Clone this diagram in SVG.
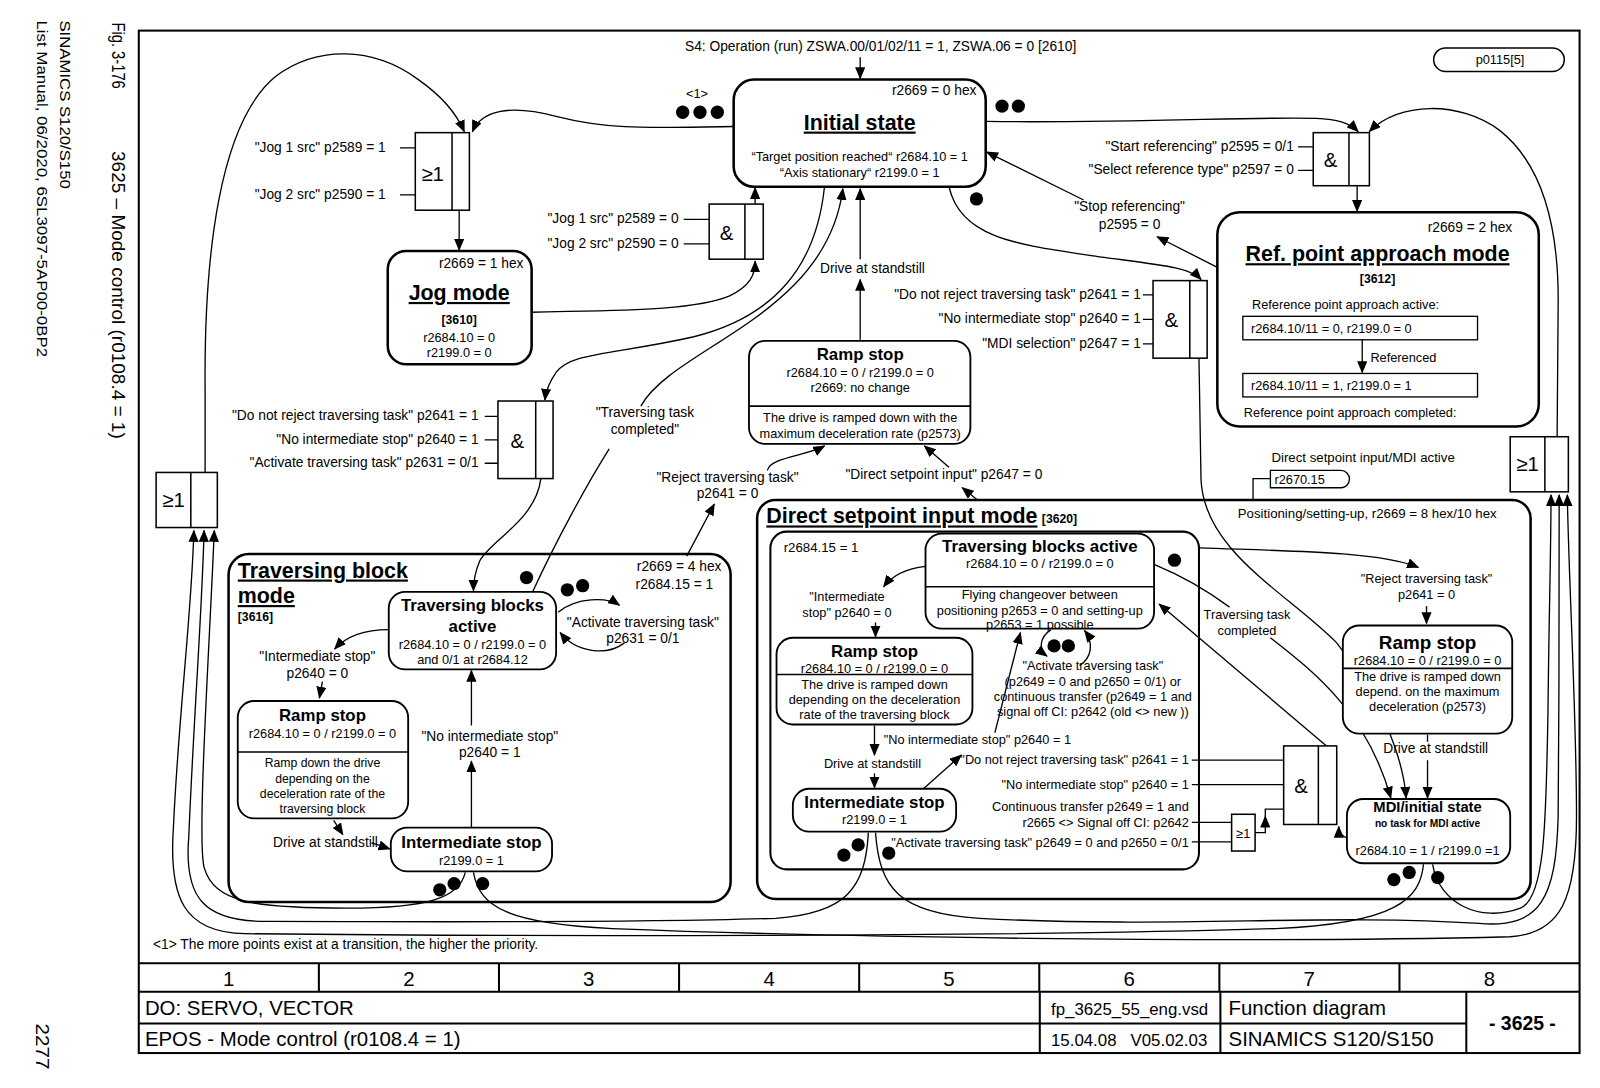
<svg xmlns="http://www.w3.org/2000/svg" width="1600" height="1088" viewBox="0 0 1600 1088">
<defs>
<style>
text{font-family:"Liberation Sans",Arial,Helvetica,sans-serif;fill:#000;font-size:13.5px}
.n{font-size:12.5px}
.s13{font-size:13px}
.s12{font-size:12px}
.m{text-anchor:middle}
.e{text-anchor:end}
.ti{font-size:21px;font-weight:bold;text-decoration:underline}
.h{font-size:16.5px;font-weight:bold}
.bx{font-size:12px;font-weight:bold}
.gs{font-size:20px}
.big{fill:#fff;stroke:#000;stroke-width:2.5}
.nd{fill:#fff;stroke:#000;stroke-width:1.8}
.gt{fill:#fff;stroke:#000;stroke-width:1.5}
.w{fill:none;stroke:#000;stroke-width:1.3}
.a{marker-end:url(#ah)}
.tb{fill:none;stroke:#000;stroke-width:2}
.tt{font-size:20px}
.fn{font-size:16.5px}
.mg{font-size:15px}
.mg2{font-size:18px}
</style>
<marker id="ah" viewBox="0 0 12 10" refX="11" refY="5" markerWidth="12" markerHeight="10" markerUnits="userSpaceOnUse" orient="auto"><path d="M0,0 L12,5 L0,10 z"/></marker>
</defs>
<rect x="0" y="0" width="1600" height="1088" fill="#fff"/>
<g transform="scale(1.0204)">

<g id="margin-text">
<text transform="translate(110,22) rotate(90)" class="mg2" textLength="65" lengthAdjust="spacingAndGlyphs">Fig. 3-176</text>
<text transform="translate(110,148) rotate(90)" class="mg2" textLength="282" lengthAdjust="spacingAndGlyphs">3625 – Mode control (r0108.4 = 1)</text>
<text transform="translate(59,20) rotate(90)" class="mg" textLength="165" lengthAdjust="spacingAndGlyphs">SINAMICS S120/S150</text>
<text transform="translate(36,20) rotate(90)" class="mg" textLength="330" lengthAdjust="spacingAndGlyphs">List Manual, 06/2020, 6SL3097-5AP00-0BP2</text>
<text transform="translate(35,1003) rotate(90)" style="font-size:18px" textLength="45" lengthAdjust="spacingAndGlyphs">2277</text>
</g>

<g id="frame">
<rect x="136" y="30" width="1412" height="1002" class="tb"/>
<path class="tb" d="M136,944 H1548 M136,972 H1548 M136,1003 H1437 M312.5,944 V972 M489,944 V972 M665.5,944 V972 M842,944 V972 M1018.5,944 V972 M1195,944 V972 M1371.5,944 V972 M1019,972 V1032 M1196,972 V1032 M1437,972 V1032"/>
<text x="224" y="966" class="tt m">1</text>
<text x="400.7" y="966" class="tt m">2</text>
<text x="577" y="966" class="tt m">3</text>
<text x="753.7" y="966" class="tt m">4</text>
<text x="930" y="966" class="tt m">5</text>
<text x="1106.7" y="966" class="tt m">6</text>
<text x="1283" y="966" class="tt m">7</text>
<text x="1459.7" y="966" class="tt m">8</text>
<text x="142" y="995" class="tt">DO: SERVO, VECTOR</text>
<text x="142" y="1025" class="tt">EPOS - Mode control (r0108.4 = 1)</text>
<text x="1030" y="995" class="fn">fp_3625_55_eng.vsd</text>
<text x="1030" y="1025" class="fn" xml:space="preserve">15.04.08   V05.02.03</text>
<text x="1204" y="995" class="tt">Function diagram</text>
<text x="1204" y="1025" class="tt">SINAMICS S120/S150</text>
<text x="1492" y="1009" class="m" style="font-size:19px;font-weight:bold">- 3625 -</text>
<text x="150" y="930">&lt;1&gt; The more points exist at a transition, the higher the priority.</text>
</g>

<g id="ref-mode">
<rect x="1193" y="208" width="315" height="210" rx="22" class="big"/>
<text x="1482" y="227" class="e">r2669 = 2 hex</text>
<text x="1350" y="256" class="ti m">Ref. point approach mode</text>
<text x="1350" y="277" class="bx m">[3612]</text>
<text x="1227" y="303" class="n">Reference point approach active:</text>
<rect x="1218" y="310" width="230" height="23" fill="#fff" stroke="#000" stroke-width="1.3"/>
<text x="1226" y="326" class="n">r2684.10/11 = 0, r2199.0 = 0</text>
<text x="1343" y="355" class="n">Referenced</text>
<rect x="1218" y="366" width="230" height="23" fill="#fff" stroke="#000" stroke-width="1.3"/>
<text x="1226" y="382" class="n">r2684.10/11 = 1, r2199.0 = 1</text>
<text x="1219" y="409" class="n">Reference point approach completed:</text>
</g>

<g id="traversing-block-mode">
<rect x="224" y="543" width="492" height="341" rx="20" class="big"/>
<text x="233" y="566" class="ti">Traversing block</text>
<text x="233" y="591" class="ti">mode</text>
<text x="233" y="609" class="bx">[3616]</text>
<text x="707" y="560" class="e">r2669 = 4 hex</text>
<text x="699" y="577" class="e">r2684.15 = 1</text>
</g>

<g id="direct-setpoint-mode">
<rect x="742" y="490" width="758" height="391" rx="18" class="big"/>
<text x="751" y="513" class="ti">Direct setpoint input mode</text>
<text x="1021" y="513" class="bx">[3620]</text>
<text x="1213" y="508" class="s13">Positioning/setting-up, r2669 = 8 hex/10 hex</text>
</g>

<g id="dsi-inner">
<rect x="755" y="521" width="420" height="331" rx="16" fill="#fff" stroke="#000" stroke-width="2"/>
<text x="768" y="541" class="s13">r2684.15 = 1</text>
</g>

<g id="connectors">
<path class="w a" d="M843,56 L843,77"/>
<path class="w a" d="M719,124 C640,125 600,128 545,114 C500,102 472,108 463,129"/>
<path class="w a" d="M201,463 L201,380 C200,250 215,120 270,75 C310,45 365,45 410,78 C430,92 446,108 455,129"/>
<path class="w a" d="M450,206 L450,245"/>
<path class="w a" d="M521,306 C600,304 680,305 715,290 C735,280 740,270 740,256"/>
<path class="w a" d="M740,200 L740,184"/>
<path class="w a" d="M966,119 C1100,121 1240,114 1290,116 C1310,117 1322,120 1331,129"/>
<path class="w a" d="M1526,428 L1527,300 C1528,220 1510,160 1470,128 C1430,98 1370,100 1342,129"/>
<path class="w a" d="M1330,182 L1330,207"/>
<path class="w a" d="M1335,333 L1335,365"/>
<path class="w a" d="M1193,262 L1134,232"/>
<path class="w a" d="M1062,196 L967,149"/>
<path class="w a" d="M930,183 C942,235 1000,240 1080,252 C1140,260 1166,262 1177,274"/>
<path class="w a" d="M1175,351 L1177,470 C1180,540 1260,580 1310,630 C1350,680 1375,740 1378,782"/>
<path class="w a" d="M843,333 L843,274"/>
<path class="w a" d="M843,254 L843,185"/>
<path class="w a" d="M808,183 C800,260 760,310 680,330 C600,348 560,345 545,365 C538,375 535,383 534,392"/>
<path class="w a" d="M530,469 C525,510 480,530 470,550 C465,562 464,570 464,579"/>
<path class="w" d="M522,580 C545,530 575,475 597,440"/>
<path class="w a" d="M628,398 C660,340 810,310 826,185"/>
<path class="w a" d="M673,545 L700,494"/>
<path class="w a" d="M752,461 C755,448 790,447 808,437"/>
<path class="w a" d="M958,490 L943,478"/>
<path class="w a" d="M930,458 L906,437"/>
<path class="w a" d="M547,600 C565,585 595,585 607,593"/>
<path class="w a" d="M612,630 C595,643 565,640 549,620"/>
<path class="w a" d="M381,617 C355,617 338,625 328,636"/>
<path class="w a" d="M316,668 L313,684"/>
<path class="w a" d="M327,804 L336,818"/>
<path class="w a" d="M364,826 C372,828 376,830 382,832"/>
<path class="w a" d="M462,811 L462,746"/>
<path class="w a" d="M462,711 L462,657"/>
<path class="w a" d="M907,555 C890,557 875,563 866,575"/>
<path class="w a" d="M858,610 L858,624"/>
<path class="w a" d="M857,711 L857,740"/>
<path class="w a" d="M857,758 L857,772"/>
<path class="w a" d="M905,773 L942,740"/>
<path class="w a" d="M975,718 L1000,620"/>
<path class="w a" d="M1030,617 C1018,625 1018,637 1026,643"/>
<path class="w a" d="M1058,652 C1070,645 1072,630 1063,618"/>
<path class="w a" d="M1175,537 C1260,540 1350,540 1390,556"/>
<path class="w a" d="M1398,594 L1398,611"/>
<path class="w" d="M1399,720 L1399,727"/>
<path class="w a" d="M1399,745 L1399,782"/>
<path class="w" d="M1131,553 C1160,565 1185,580 1205,595"/>
<path class="w a" d="M1245,625 C1290,660 1340,700 1363,782"/>
<path class="w a" d="M1300,731 L1136,592"/>
<path class="w a" d="M1322,822 C1315,820 1312,816 1312,810"/>
<path class="w" d="M1168,745 L1258,745 M1168,769 L1258,769 M1168,806 L1207,806 M1168,825 L1207,825"/>
<path class="w a" d="M1230,816 L1240,816 L1240,800"/>
<path class="w" d="M1240,800 L1240,793 L1258,793"/>
<path class="w" d="M1245,469 L1228,469 L1228,490"/>
<path class="w" d="M392,145 L407,145 M392,191 L407,191"/>
<path class="w" d="M670,215 L695,215 M670,239 L695,239"/>
<path class="w" d="M1272,144 L1287,144 M1272,167 L1287,167"/>
<path class="w" d="M1120,289 L1130,289 M1120,313 L1130,313 M1120,337 L1130,337"/>
<path class="w" d="M475,408 L488,408 M475,431 L488,431 M475,454 L488,454"/>
<path class="w a" d="M456,855 C450,880 420,890 340,890 C250,890 210,885 200,850 C193,820 205,640 210,520"/>
<path class="w a" d="M851,816 C848,870 830,895 760,900 C600,905 400,903 260,903 C200,903 180,880 185,820 C190,700 198,600 200,520"/>
<path class="w a" d="M1395,847 C1392,880 1370,905 1250,910 C1000,918 500,918 240,915 C180,914 165,880 170,810 C175,700 188,600 190,520"/>
<path class="w a" d="M1404,847 C1410,885 1450,905 1490,890 C1515,880 1515,800 1517,700 C1518,600 1520,540 1520,485"/>
<path class="w a" d="M858,816 C862,870 880,895 960,900 C1150,910 1300,895 1450,905 C1510,910 1525,880 1527,800 C1528,700 1528,560 1528,485"/>
<path class="w a" d="M464,855 C470,890 500,905 600,910 C800,918 1200,925 1480,918 C1530,915 1545,880 1545,800 C1545,700 1537,560 1536,485"/>
</g>

<g id="transition-labels">
<text x="863" y="50" class="m">S4: Operation (run) ZSWA.00/01/02/11 = 1, ZSWA.06 = 0 [2610]</text>
<text x="683" y="96" class="n m">&lt;1&gt;</text>
<text x="378" y="149" class="e">"Jog 1 src" p2589 = 1</text>
<text x="378" y="195" class="e">"Jog 2 src" p2590 = 1</text>
<text x="665" y="219" class="e">"Jog 1 src" p2589 = 0</text>
<text x="665" y="243" class="e">"Jog 2 src" p2590 = 0</text>
<text x="1268" y="148" class="e">"Start referencing" p2595 = 0/1</text>
<text x="1268" y="171" class="e">"Select reference type" p2597 = 0</text>
<text x="1107" y="207" class="m">"Stop referencing"</text>
<text x="1107" y="224" class="m">p2595 = 0</text>
<text x="1118" y="293" class="e">"Do not reject traversing task" p2641 = 1</text>
<text x="1118" y="317" class="e">"No intermediate stop" p2640 = 1</text>
<text x="1118" y="341" class="e">"MDI selection" p2647 = 1</text>
<text x="855" y="268" class="m">Drive at standstill</text>
<text x="469" y="412" class="e">"Do not reject traversing task" p2641 = 1</text>
<text x="469" y="435" class="e">"No intermediate stop" p2640 = 1</text>
<text x="469" y="458" class="e">"Activate traversing task" p2631 = 0/1</text>
<text x="632" y="409" class="m">"Traversing task</text>
<text x="632" y="425" class="m">completed"</text>
<text x="713" y="472" class="m">"Reject traversing task"</text>
<text x="713" y="488" class="m">p2641 = 0</text>
<text x="925" y="469" class="m">"Direct setpoint input" p2647 = 0</text>
<text x="1246" y="453" class="s13">Direct setpoint input/MDI active</text>
<text x="630" y="614" class="m">"Activate traversing task"</text>
<text x="630" y="630" class="m">p2631 = 0/1</text>
<text x="311" y="648" class="m">"Intermediate stop"</text>
<text x="311" y="664" class="m">p2640 = 0</text>
<text x="319" y="830" class="m">Drive at standstill</text>
<text x="480" y="726" class="m">"No intermediate stop"</text>
<text x="480" y="742" class="m">p2640 = 1</text>
<text x="830" y="589" class="n m">"Intermediate</text>
<text x="830" y="605" class="n m">stop" p2640 = 0</text>
<text x="855" y="753" class="n m">Drive at standstill</text>
<text x="866" y="729" class="n">"No intermediate stop" p2640 = 1</text>
<text x="1071" y="657" class="n m">"Activate traversing task"</text>
<text x="1071" y="672" class="n m">(p2649 = 0 and p2650 = 0/1) or</text>
<text x="1071" y="687" class="n m">continuous transfer (p2649 = 1 and</text>
<text x="1071" y="702" class="n m">signal off CI: p2642 (old &lt;&gt; new ))</text>
<text x="1165" y="749" class="n e">"Do not reject traversing task" p2641 = 1</text>
<text x="1165" y="773" class="n e">"No intermediate stop" p2640 = 1</text>
<text x="1165" y="795" class="n e">Continuous transfer p2649 = 1 and</text>
<text x="1165" y="810" class="n e">r2665 &lt;&gt; Signal off CI: p2642</text>
<text x="1165" y="830" class="n e">"Activate traversing task" p2649 = 0 and p2650 = 0/1</text>
<text x="1222" y="607" class="n m">Traversing task</text>
<text x="1222" y="622" class="n m">completed</text>
<text x="1398" y="571" class="n m">"Reject traversing task"</text>
<text x="1398" y="587" class="n m">p2641 = 0</text>
<text x="1407" y="738" class="m">Drive at standstill</text>
</g>

<g id="priority-dots">
<circle cx="669" cy="110" r="6.5"/><circle cx="686" cy="110" r="6.5"/><circle cx="703" cy="110" r="6.5"/>
<circle cx="982" cy="104" r="6.5"/><circle cx="998" cy="104" r="6.5"/>
<circle cx="957" cy="195" r="6.5"/>
<circle cx="516" cy="566" r="6.5"/>
<circle cx="556" cy="578" r="6.5"/><circle cx="571" cy="574" r="6.5"/>
<circle cx="431" cy="872" r="6.5"/><circle cx="445" cy="866" r="6.5"/><circle cx="473" cy="866" r="6.5"/>
<circle cx="1151" cy="549" r="6.5"/>
<circle cx="1033" cy="633" r="6.5"/><circle cx="1047" cy="633" r="6.5"/>
<circle cx="827" cy="838" r="6.5"/><circle cx="841" cy="828" r="6.5"/><circle cx="871" cy="836" r="6.5"/>
<circle cx="1366" cy="862" r="6.5"/><circle cx="1381" cy="855" r="6.5"/><circle cx="1409" cy="860" r="6.5"/>
</g>

<g id="p0115">
<rect x="1405" y="47" width="128" height="23" rx="11.5" fill="#fff" stroke="#000" stroke-width="1.5"/>
<text x="1470" y="63" class="n m">p0115[5]</text>
</g>

<g id="r2670-15">
<path d="M1245,461 H1314 A8.5,8.5 0 0 1 1314,478 H1245 Z" fill="#fff" stroke="#000" stroke-width="1.3"/>
<text x="1249" y="474" class="n">r2670.15</text>
</g>

<g id="initial-state">
<rect x="719" y="78" width="247" height="105" rx="20" class="big"/>
<text x="957" y="93" class="e">r2669 = 0 hex</text>
<text x="842.5" y="127" class="ti m">Initial state</text>
<text x="842.5" y="158" class="n m">“Target position reached“ r2684.10 = 1</text>
<text x="842.5" y="173" class="n m">“Axis stationary“ r2199.0 = 1</text>
</g>

<g id="jog-mode">
<rect x="380" y="246" width="141" height="111" rx="18" class="big"/>
<text x="513" y="263" class="e">r2669 = 1 hex</text>
<text x="450" y="294" class="ti m">Jog mode</text>
<text x="450" y="318" class="bx m">[3610]</text>
<text x="450" y="335" class="n m">r2684.10 = 0</text>
<text x="450" y="350" class="n m">r2199.0 = 0</text>
</g>

<g id="ramp-stop-main">
<rect x="734" y="334" width="217" height="101" rx="16" class="nd"/>
<line x1="734" y1="398" x2="951" y2="398" stroke="#000" stroke-width="1.5"/>
<text x="843" y="353" class="h m">Ramp stop</text>
<text x="843" y="369" class="n m">r2684.10 = 0 / r2199.0 = 0</text>
<text x="843" y="384" class="n m">r2669: no change</text>
<text x="843" y="414" class="n m">The drive is ramped down with the</text>
<text x="843" y="429" class="n m">maximum deceleration rate (p2573)</text>
</g>

<g id="gate-jog-or">
<rect x="407" y="130" width="53" height="76" class="gt"/><line x1="443" y1="130" x2="443" y2="206" stroke="#000" stroke-width="1.5"/>
<text x="424" y="177" class="gs m">≥1</text>
</g>
<g id="gate-jog-and">
<rect x="695" y="200" width="53" height="54" class="gt"/><line x1="730" y1="200" x2="730" y2="254" stroke="#000" stroke-width="1.5"/>
<text x="712" y="235" class="gs m">&amp;</text>
</g>
<g id="gate-ref-and">
<rect x="1287" y="130" width="55" height="52" class="gt"/><line x1="1322" y1="130" x2="1322" y2="182" stroke="#000" stroke-width="1.5"/>
<text x="1304" y="164" class="gs m">&amp;</text>
</g>
<g id="gate-mdi-and">
<rect x="1130" y="275" width="53" height="76" class="gt"/><line x1="1166" y1="275" x2="1166" y2="351" stroke="#000" stroke-width="1.5"/>
<text x="1148" y="320" class="gs m">&amp;</text>
</g>
<g id="gate-tb-and">
<rect x="488" y="393" width="54" height="76" class="gt"/><line x1="525" y1="393" x2="525" y2="469" stroke="#000" stroke-width="1.5"/>
<text x="507" y="439" class="gs m">&amp;</text>
</g>
<g id="gate-left-or">
<rect x="153" y="463" width="60" height="54" class="gt"/><line x1="187" y1="463" x2="187" y2="517" stroke="#000" stroke-width="1.5"/>
<text x="170" y="497" class="gs m">≥1</text>
</g>
<g id="gate-right-or">
<rect x="1480" y="428" width="57" height="54" class="gt"/><line x1="1514" y1="428" x2="1514" y2="482" stroke="#000" stroke-width="1.5"/>
<text x="1497" y="462" class="gs m">≥1</text>
</g>
<g id="gate-dsi-and">
<rect x="1258" y="731" width="52" height="77" class="gt"/><line x1="1292" y1="731" x2="1292" y2="808" stroke="#000" stroke-width="1.5"/>
<text x="1275" y="777" class="gs m">&amp;</text>
</g>
<g id="gate-dsi-or">
<rect x="1207" y="798" width="23" height="36" class="gt"/>
<text x="1218.5" y="821" class="n m">≥1</text>
</g>

<g id="tb-active">
<rect x="381" y="580" width="164" height="76" rx="16" class="nd"/>
<text x="463" y="599" class="h m">Traversing blocks</text>
<text x="463" y="619" class="h m">active</text>
<text x="463" y="636" class="n m">r2684.10 = 0 / r2199.0 = 0</text>
<text x="463" y="651" class="n m">and 0/1 at r2684.12</text>
</g>

<g id="tb-ramp-stop">
<rect x="233" y="687" width="167" height="115" rx="16" class="nd"/>
<line x1="233" y1="737" x2="400" y2="737" stroke="#000" stroke-width="1.5"/>
<text x="316" y="707" class="h m">Ramp stop</text>
<text x="316" y="723" class="n m">r2684.10 = 0 / r2199.0 = 0</text>
<text x="316" y="752" class="s12 m">Ramp down the drive</text>
<text x="316" y="767" class="s12 m">depending on the</text>
<text x="316" y="782" class="s12 m">deceleration rate of the</text>
<text x="316" y="797" class="s12 m">traversing block</text>
</g>

<g id="tb-intermediate-stop">
<rect x="383" y="811" width="158" height="43" rx="16" class="nd"/>
<text x="462" y="831" class="h m">Intermediate stop</text>
<text x="462" y="848" class="n m">r2199.0 = 1</text>
</g>

<g id="dsi-tb-active">
<rect x="907" y="523" width="224" height="93" rx="16" class="nd"/>
<line x1="907" y1="575" x2="1131" y2="575" stroke="#000" stroke-width="1.5"/>
<text x="1019" y="541" class="h m">Traversing blocks active</text>
<text x="1019" y="557" class="n m">r2684.10 = 0 / r2199.0 = 0</text>
<text x="1019" y="587" class="n m">Flying changeover between</text>
<text x="1019" y="603" class="n m">positioning p2653 = 0 and setting-up</text>
<text x="1019" y="616" class="n m">p2653 = 1 possible</text>
</g>

<g id="dsi-ramp-stop">
<rect x="761" y="625" width="192" height="85" rx="16" class="nd"/>
<line x1="761" y1="661" x2="953" y2="661" stroke="#000" stroke-width="1.5"/>
<text x="857" y="644" class="h m">Ramp stop</text>
<text x="857" y="660" class="n m">r2684.10 = 0 / r2199.0 = 0</text>
<text x="857" y="675" class="n m">The drive is ramped down</text>
<text x="857" y="690" class="n m">depending on the deceleration</text>
<text x="857" y="705" class="n m">rate of the traversing block</text>
</g>

<g id="dsi-intermediate-stop">
<rect x="777" y="773" width="160" height="42" rx="16" class="nd"/>
<text x="857" y="792" class="h m">Intermediate stop</text>
<text x="857" y="808" class="n m">r2199.0 = 1</text>
</g>

<g id="mdi-ramp-stop">
<rect x="1316" y="613" width="166" height="106" rx="16" class="nd"/>
<line x1="1316" y1="655" x2="1482" y2="655" stroke="#000" stroke-width="1.5"/>
<text x="1399" y="636" class="m" style="font-size:18.5px;font-weight:bold">Ramp stop</text>
<text x="1399" y="652" class="n m">r2684.10 = 0 / r2199.0 = 0</text>
<text x="1399" y="667" class="n m">The drive is ramped down</text>
<text x="1399" y="682" class="n m">depend. on the maximum</text>
<text x="1399" y="697" class="n m">deceleration (p2573)</text>
</g>

<g id="mdi-initial-state">
<rect x="1320" y="783" width="160" height="63" rx="16" class="nd"/>
<text x="1399" y="796" class="m" style="font-size:14.5px;font-weight:bold">MDI/initial state</text>
<text x="1399" y="810" class="m" style="font-size:10px;font-weight:bold">no task for MDI active</text>
<text x="1399" y="838" class="n m">r2684.10 = 1 / r2199.0 =1</text>
</g>
</g>
</svg>
